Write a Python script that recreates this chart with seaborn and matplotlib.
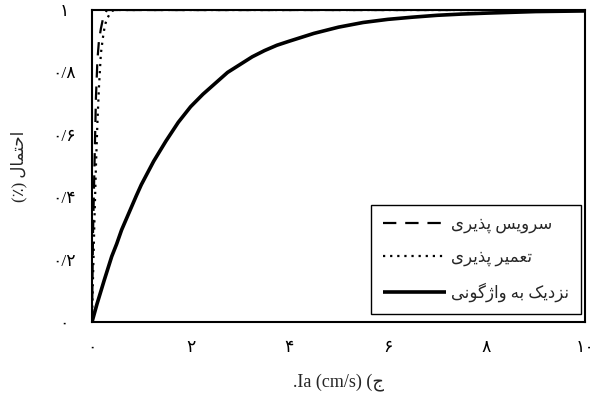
import matplotlib
matplotlib.use("Agg")
import matplotlib.pyplot as plt
import pandas as pd
import seaborn as sns

# Probability curves versus Arias intensity Ia (cm/s)
ia_near_collapse = [0, 0.1, 0.25, 0.4, 0.5, 0.6, 0.75, 0.9, 1.0, 1.25, 1.5, 1.75,
                    2.0, 2.25, 2.5, 2.75, 3.0, 3.25, 3.5, 3.75, 4.0, 4.5, 5.0,
                    5.5, 6.0, 6.5, 7.0, 7.5, 8.0, 9.0, 10.0]
p_near_collapse = [0, 0.057, 0.135, 0.21, 0.25, 0.295, 0.35, 0.405, 0.44, 0.515,
                   0.58, 0.64, 0.69, 0.73, 0.765, 0.80, 0.825, 0.85, 0.87, 0.887,
                   0.90, 0.925, 0.945, 0.96, 0.97, 0.977, 0.983, 0.987, 0.99,
                   0.995, 0.997]

ia_steep = [0, 0.02, 0.05, 0.08, 0.11, 0.14, 0.18, 0.22, 0.26, 0.30, 0.35, 0.40,
            0.50, 10.0]
p_serviceability = [0, 0.28, 0.5, 0.72, 0.84, 0.9, 0.94, 0.97, 0.985, 1.0, 1.0,
                    1.0, 1.0, 1.0]
p_repairability = [0, 0.14, 0.33, 0.5, 0.64, 0.75, 0.86, 0.91, 0.95, 0.97, 0.985,
                   0.997, 1.0, 1.0]

series_names = ["سرویس پذیری", "تعمیر پذیری", "نزدیک به واژگونی"]
x_ticks = [0, 2, 4, 6, 8, 10]
x_ticklabels = ["۰", "۲", "۴", "۶", "۸", "۱۰"]
y_ticks = [0, 0.2, 0.4, 0.6, 0.8, 1.0]
y_ticklabels = ["۰", "۰/۲", "۰/۴", "۰/۶", "۰/۸", "۱"]
y_label = "احتمال (٪)"
x_label_latin = "Ia (cm/s)"
x_label_letter = "ج"

# Minimal Arabic-script shaping: contextual presentation forms + visual order
FORMS = {
    "ا": ("\uFE8D", "\uFE8E"),
    "ب": ("\uFE8F", "\uFE90", "\uFE91", "\uFE92"),
    "پ": ("\uFB56", "\uFB57", "\uFB58", "\uFB59"),
    "ت": ("\uFE95", "\uFE96", "\uFE97", "\uFE98"),
    "ج": ("\uFE9D", "\uFE9E", "\uFE9F", "\uFEA0"),
    "ح": ("\uFEA1", "\uFEA2", "\uFEA3", "\uFEA4"),
    "د": ("\uFEA9", "\uFEAA"),
    "ذ": ("\uFEAB", "\uFEAC"),
    "ر": ("\uFEAD", "\uFEAE"),
    "ز": ("\uFEAF", "\uFEB0"),
    "ژ": ("\uFB8A", "\uFB8B"),
    "س": ("\uFEB1", "\uFEB2", "\uFEB3", "\uFEB4"),
    "ع": ("\uFEC9", "\uFECA", "\uFECB", "\uFECC"),
    "ک": ("\uFB8E", "\uFB8F", "\uFB90", "\uFB91"),
    "گ": ("\uFB92", "\uFB93", "\uFB94", "\uFB95"),
    "ل": ("\uFEDD", "\uFEDE", "\uFEDF", "\uFEE0"),
    "م": ("\uFEE1", "\uFEE2", "\uFEE3", "\uFEE4"),
    "ن": ("\uFEE5", "\uFEE6", "\uFEE7", "\uFEE8"),
    "ه": ("\uFEE9", "\uFEEA", "\uFEEB", "\uFEEC"),
    "و": ("\uFEED", "\uFEEE"),
    "ی": ("\uFBFC", "\uFBFD", "\uFBFE", "\uFBFF"),
}
MIRROR = {"(": ")", ")": "("}


def rtl(text):
    chars = list(text)
    out = []
    for i, c in enumerate(chars):
        if c not in FORMS:
            out.append(MIRROR.get(c, c))
            continue
        f = FORMS[c]
        prev = chars[i - 1] if i > 0 else None
        nxt = chars[i + 1] if i + 1 < len(chars) else None
        join_prev = prev in FORMS and len(FORMS[prev]) == 4
        join_next = len(f) == 4 and nxt in FORMS
        if join_prev and join_next:
            out.append(f[3])
        elif join_prev:
            out.append(f[1])
        elif join_next:
            out.append(f[2])
        else:
            out.append(f[0])
    return "".join(reversed(out))


sns.set_style("white")
plt.rcParams["font.family"] = ["Liberation Serif", "DejaVu Sans"]
plt.rcParams["axes.edgecolor"] = "black"

fig = plt.figure(figsize=(5.93, 4.01), dpi=100)
ax = fig.add_axes([92 / 593, 1 - 322 / 401, (585 - 92) / 593, (322 - 10) / 401])

df_steep = pd.DataFrame({"ia": ia_steep, "serv": p_serviceability, "rep": p_repairability})
df_nc = pd.DataFrame({"ia": ia_near_collapse, "p": p_near_collapse})

sns.lineplot(data=df_steep, x="ia", y="serv", ax=ax, color="black", lw=1.6,
             label=rtl(series_names[0]), estimator=None)
sns.lineplot(data=df_steep, x="ia", y="rep", ax=ax, color="black", lw=1.6,
             label=rtl(series_names[1]), estimator=None)
sns.lineplot(data=df_nc, x="ia", y="p", ax=ax, color="black", lw=2.6,
             label=rtl(series_names[2]), estimator=None)

lines = ax.get_lines()
lines[0].set_dashes((6, 4))
lines[1].set_dashes((1, 2.2))
for ln in lines:
    ln.set_solid_capstyle("butt")
    ln.set_dash_capstyle("butt")
    ln.set_solid_joinstyle("round")

ax.set_xlim(0, 10)
ax.set_ylim(0, 1)
ax.set_xticks(x_ticks)
ax.set_xticklabels(x_ticklabels)
ax.set_yticks(y_ticks)
ax.set_yticklabels(y_ticklabels, ha="center")
ax.tick_params(axis="both", direction="in", length=4, width=1, labelsize=12.5,
               colors="black")
ax.tick_params(axis="x", pad=13)
ax.tick_params(axis="y", pad=20)

for sp in ax.spines.values():
    sp.set_visible(True)
    sp.set_linewidth(1.5)
    sp.set_color("black")

ax.set_xlabel("." + x_label_latin + " (" + rtl(x_label_letter), fontsize=13,
              labelpad=12)
ax.set_ylabel(rtl(y_label), fontsize=12, labelpad=18)

leg = ax.legend(loc="upper right", bbox_to_anchor=(0.992, 0.375), borderaxespad=0,
                fontsize=12, handlelength=3.8, handletextpad=0.3,
                labelspacing=1.0, borderpad=0.7, fancybox=False, framealpha=1,
                edgecolor="black")
leg.get_frame().set_linewidth(1.0)

fig.savefig("out.png", dpi=100)
